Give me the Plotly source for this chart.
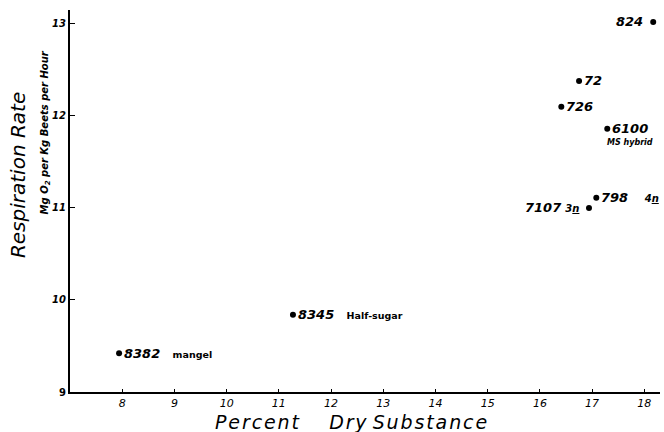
import plotly.graph_objects as go

# Data
varieties = ["8382", "8345", "7107", "798", "6100", "726", "72", "824"]
notes = ["mangel", "Half-sugar", "3n", "4n", "MS hybrid", "", "", ""]
dry_substance = [7.94, 11.27, 16.94, 17.08, 17.29, 16.41, 16.75, 18.17]
respiration = [9.42, 9.84, 11.00, 11.11, 11.86, 12.10, 12.38, 13.02]
x_ticks = list(range(8, 19))
y_ticks = [9, 10, 11, 12, 13]

FONT = "DejaVu Sans"
HAIR = "\u200a"


def spaced(s):
    return HAIR.join(s)


fig = go.Figure()
fig.add_trace(go.Scatter(
    x=dry_substance, y=respiration, mode="markers",
    marker=dict(color="black", size=6, symbol="circle"),
    showlegend=False, hoverinfo="skip", cliponaxis=False,
))

# label placement style per point (side, note placement)
sides = ["right", "right", "left", "right", "right", "right", "right", "left"]
note_mode = ["inline", "inline", "inline", "inline", "below", "none", "none", "none"]

for v, n, x, y, side, mode in zip(varieties, notes, dry_substance, respiration, sides, note_mode):
    if mode == "inline":
        if n in ("3n", "4n"):
            gap = "&nbsp;&nbsp;&nbsp;&nbsp;" if side == "right" else "&nbsp;"
            txt = (f"<i><b>{v}</b></i>{gap}"
                   f"<span style='font-size:10px'><i><b>{n[0]}<u>{n[1]}</u></b></i></span>")
        else:
            txt = f"<i><b>{v}</b></i>&nbsp;&nbsp;&nbsp;<span style='font-size:9.5px'><b>{n}</b></span>"
    else:
        txt = f"<i><b>{v}</b></i>"
    fig.add_annotation(
        x=x, y=y, xref="x", yref="y", text=txt, showarrow=False,
        xanchor="left" if side == "right" else "right", yanchor="middle",
        xshift=3 if side == "right" else -8,
        font=dict(family=FONT, size=13, color="black"),
    )
    if mode == "below":
        fig.add_annotation(
            x=x, y=y, xref="x", yref="y",
            text=f"<i><b>{n}</b></i>", showarrow=False,
            xanchor="left", yanchor="middle", xshift=-2, yshift=-14,
            font=dict(family=FONT, size=8, color="black"),
        )

# axis titles
fig.add_annotation(
    x=-0.088, y=0.568, xref="paper", yref="paper", textangle=-90,
    text="<i>Respiration&nbsp;Rate</i>", showarrow=False,
    xanchor="center", yanchor="middle",
    font=dict(family=FONT, size=20, color="black"),
)
fig.add_annotation(
    x=-0.042, y=0.68, xref="paper", yref="paper", textangle=-90,
    text="<i><b>Mg O<sub>2</sub> per Kg Beets per Hour</b></i>", showarrow=False,
    xanchor="center", yanchor="middle",
    font=dict(family=FONT, size=10, color="black"),
)
fig.add_annotation(
    x=0.477, y=0, xref="paper", yref="paper", yshift=-17,
    text=f"<i>{spaced('Percent')}&nbsp;&nbsp;&nbsp;&nbsp;&nbsp;{spaced('Dry')}&nbsp;{spaced('Substance')}</i>",
    showarrow=False, xanchor="center", yanchor="top",
    font=dict(family=FONT, size=19, color="black"),
)

fig.update_layout(
    width=664, height=432,
    margin=dict(l=70, r=4, t=10, b=40),
    paper_bgcolor="white", plot_bgcolor="white",
    font=dict(family=FONT, color="black"),
    xaxis=dict(
        range=[7, 18.3], tickvals=x_ticks,
        ticktext=[f"<i>{t}</i>" for t in x_ticks],
        showgrid=False, zeroline=False,
        showline=True, linecolor="black", linewidth=2,
        ticks="inside", ticklen=3, tickcolor="black", tickwidth=1,
        tickfont=dict(family=FONT, size=11),
    ),
    yaxis=dict(
        range=[9, 13.15], tickvals=y_ticks,
        ticktext=[f"<i><b>{t}</b></i>" if t != 9 else "<b>9</b>" for t in y_ticks],
        showgrid=False, zeroline=False,
        showline=True, linecolor="black", linewidth=2,
        ticks="inside", ticklen=5, tickcolor="black", tickwidth=1,
        tickfont=dict(family=FONT, size=10),
    ),
)

fig.write_html("out.html", config={"displayModeBar": False},
               post_script="document.body.style.margin='0';")
